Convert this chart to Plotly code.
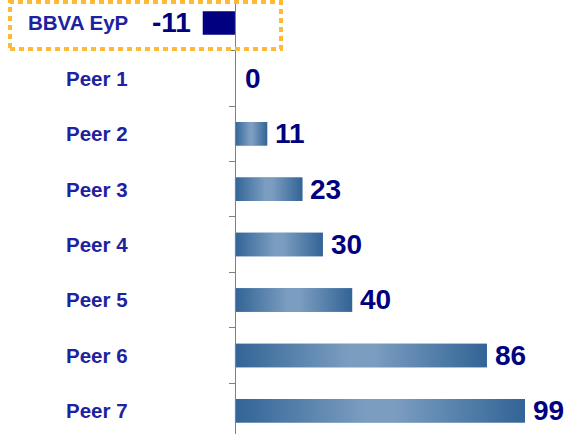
import plotly.graph_objects as go

categories = ["BBVA EyP", "Peer 1", "Peer 2", "Peer 3", "Peer 4", "Peer 5", "Peer 6", "Peer 7"]
values = [-11, 0, 11, 23, 30, 40, 86, 99]
highlight = "BBVA EyP"

W, H = 566, 434
XMIN, XMAX = -80.2, 113.0
YTOP, YBOT = -0.415, 7.419
BAR_W = 0.424

NAVY = "#000080"
LABEL_C = "#1e22a0"
DARK = "#326496"
LIGHT = "#7b9dc0"

idx = list(range(len(categories)))
bar_colors = [NAVY if c == highlight else "#4f7aa8" for c in categories]

fig = go.Figure()
fig.add_trace(go.Bar(
    x=values, y=idx, orientation="h", width=BAR_W,
    marker=dict(color=bar_colors, line=dict(width=0)),
    hoverinfo="skip", showlegend=False,
))

# gradient overlays for peer bars
for i, (c, v) in enumerate(zip(categories, values)):
    if c == highlight or v == 0:
        continue
    y0, y1 = i - BAR_W / 2, i + BAR_W / 2
    fig.add_trace(go.Scatter(
        x=[0, v, v, 0, 0], y=[y0, y0, y1, y1, y0],
        mode="lines", line=dict(width=0), fill="toself",
        fillgradient=dict(type="horizontal",
                          colorscale=[[0, DARK], [0.45, LIGHT], [0.55, LIGHT], [1, DARK]]),
        hoverinfo="skip", showlegend=False,
    ))

annotations = []
for i, (c, v) in enumerate(zip(categories, values)):
    annotations.append(dict(
        x=130 / W, xref="paper", y=i, yref="y", text=c, showarrow=False,
        xanchor="right", yanchor="middle",
        font=dict(family="Liberation Sans, Arial", size=20.5, color=LABEL_C, weight="bold"),
    ))
    annotations.append(dict(
        x=v, y=i, xref="x", yref="y", text=str(v), showarrow=False,
        xanchor="right" if v < 0 else "left", yanchor="middle",
        xshift=-10 if v < 0 else (8 if v == 0 else 6),
        font=dict(family="Liberation Sans, Arial", size=28, color=NAVY, weight="bold"),
    ))

fig.update_layout(
    width=W, height=H, margin=dict(l=0, r=0, t=0, b=0),
    paper_bgcolor="white", plot_bgcolor="white",
    barmode="overlay",
    xaxis=dict(visible=False, range=[XMIN, XMAX], fixedrange=True),
    yaxis=dict(range=[YBOT, YTOP], anchor="free", position=(0 - XMIN) / (XMAX - XMIN),
               showline=True, linecolor="#808080", linewidth=1,
               ticks="outside", ticklen=6, tickcolor="#808080", tickwidth=1,
               tickvals=[k - 0.5 for k in range(len(categories) + 1)],
               showticklabels=False, showgrid=False, zeroline=False, fixedrange=True),
    annotations=annotations,
    shapes=[dict(type="rect", xref="paper", yref="paper",
                 x0=10 / W, x1=281 / W, y0=1 - 49 / H, y1=1 - 2 / H,
                 line=dict(color="#FFB935", width=4, dash="5px,4px"), layer="above")],
)

fig.write_html("out.html", config={"displayModeBar": False},
               post_script="document.body.style.margin='0';document.body.style.overflow='hidden';")
